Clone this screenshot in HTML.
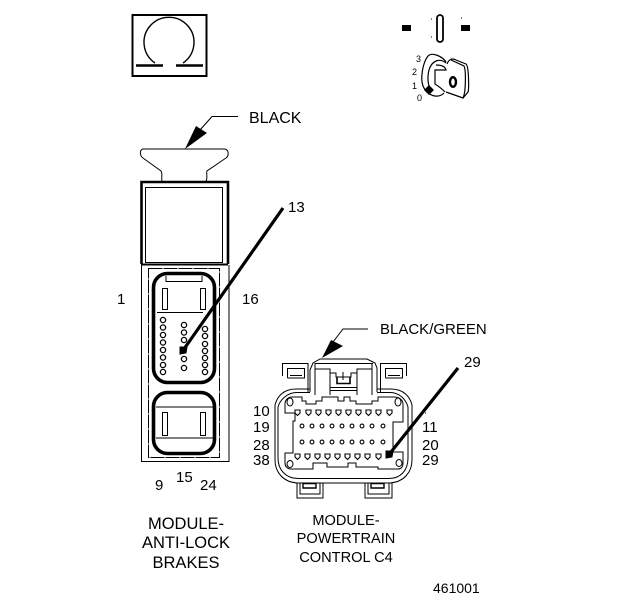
<!DOCTYPE html>
<html><head><meta charset="utf-8"><style>
html,body{margin:0;padding:0;background:#fff}
svg{display:block}
text{font-family:"Liberation Sans",sans-serif;font-size:15px;fill:#000;stroke:none}
.b{font-size:16.500px}
.p{font-size:14.600px}
.k{font-size:9px}
</style></head><body>
<svg width="624" height="600" viewBox="0 0 624 600" fill="none" stroke="#000" stroke-width="1">
<!-- omega -->
<rect x="132.500" y="15" width="74" height="61" stroke-width="2"/>
<path d="M155 63A25 25 0 1 1 183 63" stroke-width="1.400"/>
<path d="M136 65.500H163M176 65.500H203" stroke-width="2.600"/>
<!-- ignition -->
<rect x="402" y="25" width="9" height="6" fill="#000" stroke="none"/>
<rect x="461" y="25" width="9" height="6" fill="#000" stroke="none"/>
<rect x="437" y="15" width="6" height="27" rx="3" stroke-width="1.800"/>
<path d="M431 19h1M431 37h1M461 18h1"/>
<path d="M446 62C442 56 432 52 428 56C423 62 420 78 423 86C427 96 438 99 444 93" stroke-width="1.200"/>
<path d="M446 63C440 58 432 60 429 70C427 78 428 86 431 90" stroke-width="1.200"/>
<path d="M436 65C441 65 445 66 446 70H435V84C440 87 443 90 445 92" stroke-width="1.200"/>
<path d="M447 64C449 59 452 58 456 60L466 64C469 66 469 90 468 92L463 98L446 92" stroke-width="1.200"/>
<path d="M451 60L464 66C466 70 466 92 463 98" stroke-width="1.200"/>
<ellipse cx="453" cy="82" rx="3" ry="4.800" stroke-width="2.400"/>
<rect x="425.500" y="86.500" width="7" height="7" transform="rotate(45 429 90)" fill="#000" stroke="none"/>
<text x="416" y="62" class="k">3</text>
<text x="412" y="75" class="k">2</text>
<text x="412" y="89" class="k">1</text>
<text x="417" y="101" class="k">0</text>
<!-- BLACK leader -->
<path d="M238 116.500H212L192 139" stroke-width="1.100"/>
<path d="M196 126L207 133L185 149Z" fill="#000" stroke="none"/>
<text x="249" y="123" style="font-size:16px">BLACK</text>
<!-- connector top -->
<path d="M143 149H225C229 150 229 156 226 158L207 171C206 174 208 178 206 181M143 149C139 150 140 156 143 158L161 171C163 174 161 178 162 181"/>
<path d="M141.500 264V182H228V264" stroke-width="2.600"/>
<path d="M141 264.500H228" stroke-width="2"/>
<rect x="145.500" y="187.500" width="77" height="75"/>
<path d="M141.500 265V461.500H229V265"/>
<rect x="148.500" y="268.500" width="71" height="189" stroke-dasharray="14 1"/>
<rect x="153.500" y="273.500" width="61" height="109" rx="14" stroke-width="3.600"/>
<rect x="153.500" y="392.500" width="61" height="61" rx="14" stroke-width="3.600"/>
<path d="M166 276V281.500H202V276"/>
<path d="M156 407H213M156 438H213"/>
<rect x="162.500" y="288.500" width="5" height="21"/><rect x="200.500" y="288.500" width="5" height="21"/>
<rect x="162.500" y="412.500" width="5" height="23"/><rect x="200.500" y="412.500" width="5" height="23"/>
<path d="M157 312.500H203"/>
<g stroke-width="1.300">
<circle cx="163" cy="320" r="2.600"/><circle cx="163" cy="327.500" r="2.600"/><circle cx="163" cy="335" r="2.600"/><circle cx="163" cy="342.500" r="2.600"/><circle cx="163" cy="350" r="2.600"/><circle cx="163" cy="357.500" r="2.600"/><circle cx="163" cy="365" r="2.600"/><circle cx="163" cy="372" r="2.600"/>
<circle cx="184" cy="325" r="2.600"/><circle cx="184" cy="332.500" r="2.600"/><circle cx="184" cy="340" r="2.600"/><circle cx="184" cy="359" r="2.600"/><circle cx="184" cy="368" r="2.600"/>
<circle cx="205" cy="329" r="2.600"/><circle cx="205" cy="336" r="2.600"/><circle cx="205" cy="344" r="2.600"/><circle cx="205" cy="351" r="2.600"/><circle cx="205" cy="358" r="2.600"/><circle cx="205" cy="365" r="2.600"/><circle cx="205" cy="372" r="2.600"/>
</g>
<path d="M283 208L184 349" stroke-width="3.200"/>
<path d="M180 354V347L187 347L186 353Z" fill="#000"/>
<text x="288" y="212">13</text>
<text x="117" y="304">1</text>
<text x="242" y="304">16</text>
<text x="155" y="490">9</text>
<text x="176" y="482">15</text>
<text x="200" y="490">24</text>
<text x="186" y="529" text-anchor="middle" class="b">MODULE-</text>
<text x="186" y="548" text-anchor="middle" class="b">ANTI-LOCK</text>
<text x="186" y="568" text-anchor="middle" class="b">BRAKES</text>
<!-- PCM leader -->
<path d="M368 329H343L333 342"/>
<path d="M331 340L343 346L322 358Z" fill="#000" stroke="none"/>
<text x="380" y="334">BLACK/GREEN</text>
<!-- PCM tower -->
<path d="M310 392V370L313 363L320 359H367L375 363L377 368V392"/>
<path d="M315 395V363.500H373M372 363.500V395"/>
<path d="M315 369H330V395M372 369H357V395M330 373H336V377H351V373H357"/>
<path d="M330 387.500H357M330 390.500H357"/>
<path d="M337 377V383.500H350V377" stroke-width="1.600"/>
<path d="M343 372V380"/>
<!-- PCM side latches -->
<path d="M282.500 376V363.500H308V392"/>
<path d="M287.500 378V368.500H304.500V378H287.500M290 375.500H302"/>
<path d="M380.500 392V363.500H406.500V376"/>
<path d="M385.500 378V368.500H402.500V378H385.500M388 375.500H400"/>
<!-- PCM shell -->
<path d="M310 389H296C283 389 277 397 275 405V460C275 472 283 482 297 483H390C404 482 412 472 412 460V405C410 397 404 389 391 389H377"/>
<path d="M310 392.500H297C287 392.500 280 400 278 407V458C278 470 286 478.500 298 478.500H389C401 478.500 408 470 408 458V407C406 400 400 392.500 390 392.500H377"/>
<!-- PCM inner outline -->
<path d="M285 413V404C285 400 288 397 292 397H302V401H306V404H316V401H322V397H338V401H344V397H350V401H356V404H372V401H378V397H394C399 397 403 400 403 404V422H393V452H403V463C403 467 401 469 398 469H378V467H356V463H348V467H327V463H313V469H291C287 469 285 466 285 463V453H293V421H295V413Z"/>
<ellipse cx="290" cy="402" rx="3" ry="4"/><ellipse cx="398" cy="402" rx="3" ry="4"/>
<ellipse cx="290" cy="464" rx="3" ry="3.500"/><ellipse cx="399" cy="463" rx="3" ry="3.500"/>
<!-- PCM bottom latches -->
<path d="M297 483V498H323V483M300 483V494H320V483M365 483V498H392V483M368 483V494H389V483"/>
<path d="M303 483.500H316V488H303ZM371 483.500H384V488H371Z" stroke-width="1.400"/>
<!-- PCM pins -->
<g stroke-width="1.100">
<path d="M295 410h5v3l-2.500 2.500l-2.500-2.500zM306 410h5v3l-2.500 2.500l-2.500-2.500zM316 410h5v3l-2.500 2.500l-2.500-2.500zM326 410h5v3l-2.500 2.500l-2.500-2.500zM336 410h5v3l-2.500 2.500l-2.500-2.500zM346 410h5v3l-2.500 2.500l-2.500-2.500zM356 410h5v3l-2.500 2.500l-2.500-2.500zM366 410h5v3l-2.500 2.500l-2.500-2.500zM376 410h5v3l-2.500 2.500l-2.500-2.500zM387 410h5v3l-2.500 2.500l-2.500-2.500z"/>
<circle cx="302" cy="426" r="1.900"/><circle cx="312" cy="426" r="1.900"/><circle cx="322" cy="426" r="1.900"/><circle cx="332" cy="426" r="1.900"/><circle cx="342" cy="426" r="1.900"/><circle cx="352" cy="426" r="1.900"/><circle cx="362" cy="426" r="1.900"/><circle cx="372" cy="426" r="1.900"/><circle cx="383" cy="426" r="1.900"/>
<circle cx="302" cy="442" r="1.900"/><circle cx="312" cy="442" r="1.900"/><circle cx="322" cy="442" r="1.900"/><circle cx="332" cy="442" r="1.900"/><circle cx="342" cy="442" r="1.900"/><circle cx="352" cy="442" r="1.900"/><circle cx="362" cy="442" r="1.900"/><circle cx="372" cy="442" r="1.900"/><circle cx="383" cy="442" r="1.900"/>
<path d="M295 454h5v3l-2.500 2.500l-2.500-2.500zM305 454h5v3l-2.500 2.500l-2.500-2.500zM315 454h5v3l-2.500 2.500l-2.500-2.500zM325 454h5v3l-2.500 2.500l-2.500-2.500zM335 454h5v3l-2.500 2.500l-2.500-2.500zM345 454h5v3l-2.500 2.500l-2.500-2.500zM355 454h5v3l-2.500 2.500l-2.500-2.500zM365 454h5v3l-2.500 2.500l-2.500-2.500zM376 454h5v3l-2.500 2.500l-2.500-2.500z"/>
</g>
<path d="M458 368L391 452" stroke-width="3.200"/>
<path d="M386 458V451L393 451L392 457Z" fill="#000"/>
<text x="464" y="367">29</text>
<text x="253" y="416">10</text>
<text x="253" y="432">19</text>
<text x="253" y="450">28</text>
<text x="253" y="465">38</text>
<text x="422" y="432">11</text>
<text x="422" y="450">20</text>
<text x="422" y="465">29</text>
<path d="M425 413h1"/>
<text x="346" y="525" text-anchor="middle" class="p">MODULE-</text>
<text x="346" y="543" text-anchor="middle" class="p">POWERTRAIN</text>
<text x="346" y="562" text-anchor="middle" class="p">CONTROL C4</text>
<text x="433" y="593" style="font-size:14px">461001</text>
</svg>
</body></html>
